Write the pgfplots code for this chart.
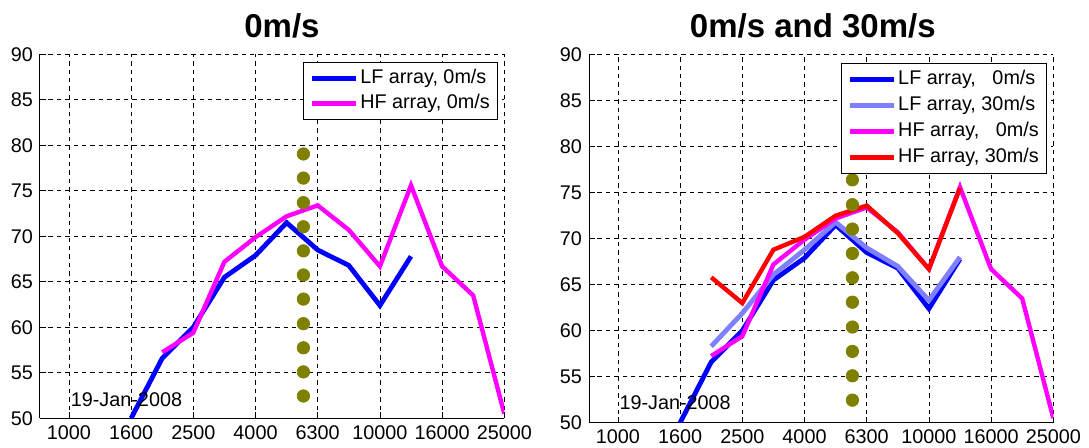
\documentclass[border=0pt]{standalone}
\usepackage{fontspec}
\setmainfont{Liberation Sans}
\usepackage{pgfplots}
\pgfplotsset{compat=1.18}

\definecolor{lfzero}{HTML}{0000FF}
\definecolor{lfthirty}{HTML}{8080FF}
\definecolor{hfzero}{HTML}{FF00FF}
\definecolor{hfthirty}{HTML}{FF0000}
\definecolor{dotolive}{HTML}{808000}

\newcommand{\lblfont}{\fontsize{9.9}{11}\selectfont}

% 1 px of the reference = 0.5pt
\pgfplotsset{
  panel/.style={
    scale only axis,
    width=232.15pt,
    xmin=-0.93, xmax=14, ymin=50, ymax=90,
    xtick={0,2,...,14},
    xticklabels={1000,1600,2500,4000,6300,10000,16000,25000},
    ytick={50,55,...,90},
    grid=major,
    major grid style={black, line width=0.4pt, dash pattern=on 2.2pt off 2pt},
    axis x line*=bottom, axis y line*=left,
    axis line style={black, line width=0.5pt},
    tick align=inside, major tick length=3pt,
    tick style={black, line width=0.4pt},
    tick label style={font=\lblfont},
    /pgf/number format/assume math mode=true,
    legend cell align=left,
    legend image code/.code={\draw[##1] (0pt,0pt) -- (22pt,0pt);},
    legend style={anchor=north east, draw=black, line width=0.6pt, fill=white,
      inner xsep=3pt, inner ysep=2.5pt,
      nodes={inner sep=1pt, text height=7pt, text depth=2pt, font=\lblfont}},
  },
  dots/.style={dotolive, only marks, mark=*, mark size=3.1pt,
    mark options={draw=none, fill=dotolive}, forget plot},
}

\begin{document}
\begin{tikzpicture}
% left panel
\begin{axis}[panel, height=182pt,
  legend style={at={(1,1)}, xshift=-3pt, yshift=-3.7pt, row sep=1.5pt}]
\addplot[lfzero, line width=2.4pt] coordinates {
  (2,50.0)(3,56.6)(4,60.0)(5,65.5)(6,67.9)(7,71.5)(8,68.5)(9,66.8)(10,62.4)(11,67.8)};
\addlegendentry{LF array, 0m/s}
\addplot[hfzero, line width=2.2pt] coordinates {
  (3,57.25)(4,59.4)(5,67.2)(6,69.9)(7,72.2)(8,73.4)(9,70.7)(10,66.7)(11,75.6)(12,66.7)(13,63.5)(14,50.5)};
\addlegendentry{HF array, 0m/s}
\addplot[dots] coordinates {
  (7.54,52.45)(7.54,55.1)(7.54,57.75)(7.54,60.4)(7.54,63.1)(7.54,65.75)(7.54,68.4)(7.54,71.05)(7.54,73.7)(7.54,76.4)(7.54,79.05)};
\node[anchor=base west, inner sep=0pt, font=\lblfont] at (axis cs:0.05,51.27) {19-Jan-2008};
\end{axis}

% right panel
\begin{axis}[panel, height=184pt, at={(274.5pt,-2.2pt)}, anchor=south west,
  legend style={at={(1,1)}, xshift=-3pt, yshift=-4pt, row sep=2pt}]
\addplot[lfzero, line width=2.4pt] coordinates {
  (2,50.0)(3,56.6)(4,60.0)(5,65.5)(6,67.9)(7,71.5)(8,68.5)(9,66.8)(10,62.4)(11,67.8)};
\addlegendentry{LF array, \phantom{3}0m/s}
\addplot[lfthirty, line width=2.4pt] coordinates {
  (3,58.3)(4,61.9)(5,66.1)(6,68.8)(7,71.8)(8,69.0)(9,67.0)(10,63.3)(11,68.0)};
\addlegendentry{LF array, 30m/s}
\addplot[hfzero, line width=2.2pt] coordinates {
  (3,57.25)(4,59.4)(5,67.2)(6,69.9)(7,72.2)(8,73.4)(9,70.7)(10,66.7)(11,75.6)(12,66.7)(13,63.5)(14,50.5)};
\addlegendentry{HF array, \phantom{3}0m/s}
\addplot[hfthirty, line width=2.2pt] coordinates {
  (3,65.8)(4,63.0)(5,68.8)(6,70.2)(7,72.5)(8,73.6)(9,70.6)(10,66.7)(11,75.5)};
\addlegendentry{HF array, 30m/s}
\addplot[dots] coordinates {
  (7.54,52.45)(7.54,55.1)(7.54,57.75)(7.54,60.4)(7.54,63.1)(7.54,65.75)(7.54,68.4)(7.54,71.05)(7.54,73.7)(7.54,76.4)(7.54,79.05)};
\node[anchor=base west, inner sep=0pt, font=\lblfont] at (axis cs:0.04,51.4) {19-Jan-2008};
\end{axis}

\node[anchor=base, font=\bfseries\fontsize{16.5}{19}\selectfont] at (121pt,190.5pt) {0m/s};
\node[anchor=base, font=\bfseries\fontsize{16.5}{19}\selectfont] at (386.4pt,190.5pt) {0m/s and 30m/s};

\pgfresetboundingbox
\useasboundingbox (-20pt,-14.35pt) rectangle (524.5pt,209.15pt);
\end{tikzpicture}
\end{document}
